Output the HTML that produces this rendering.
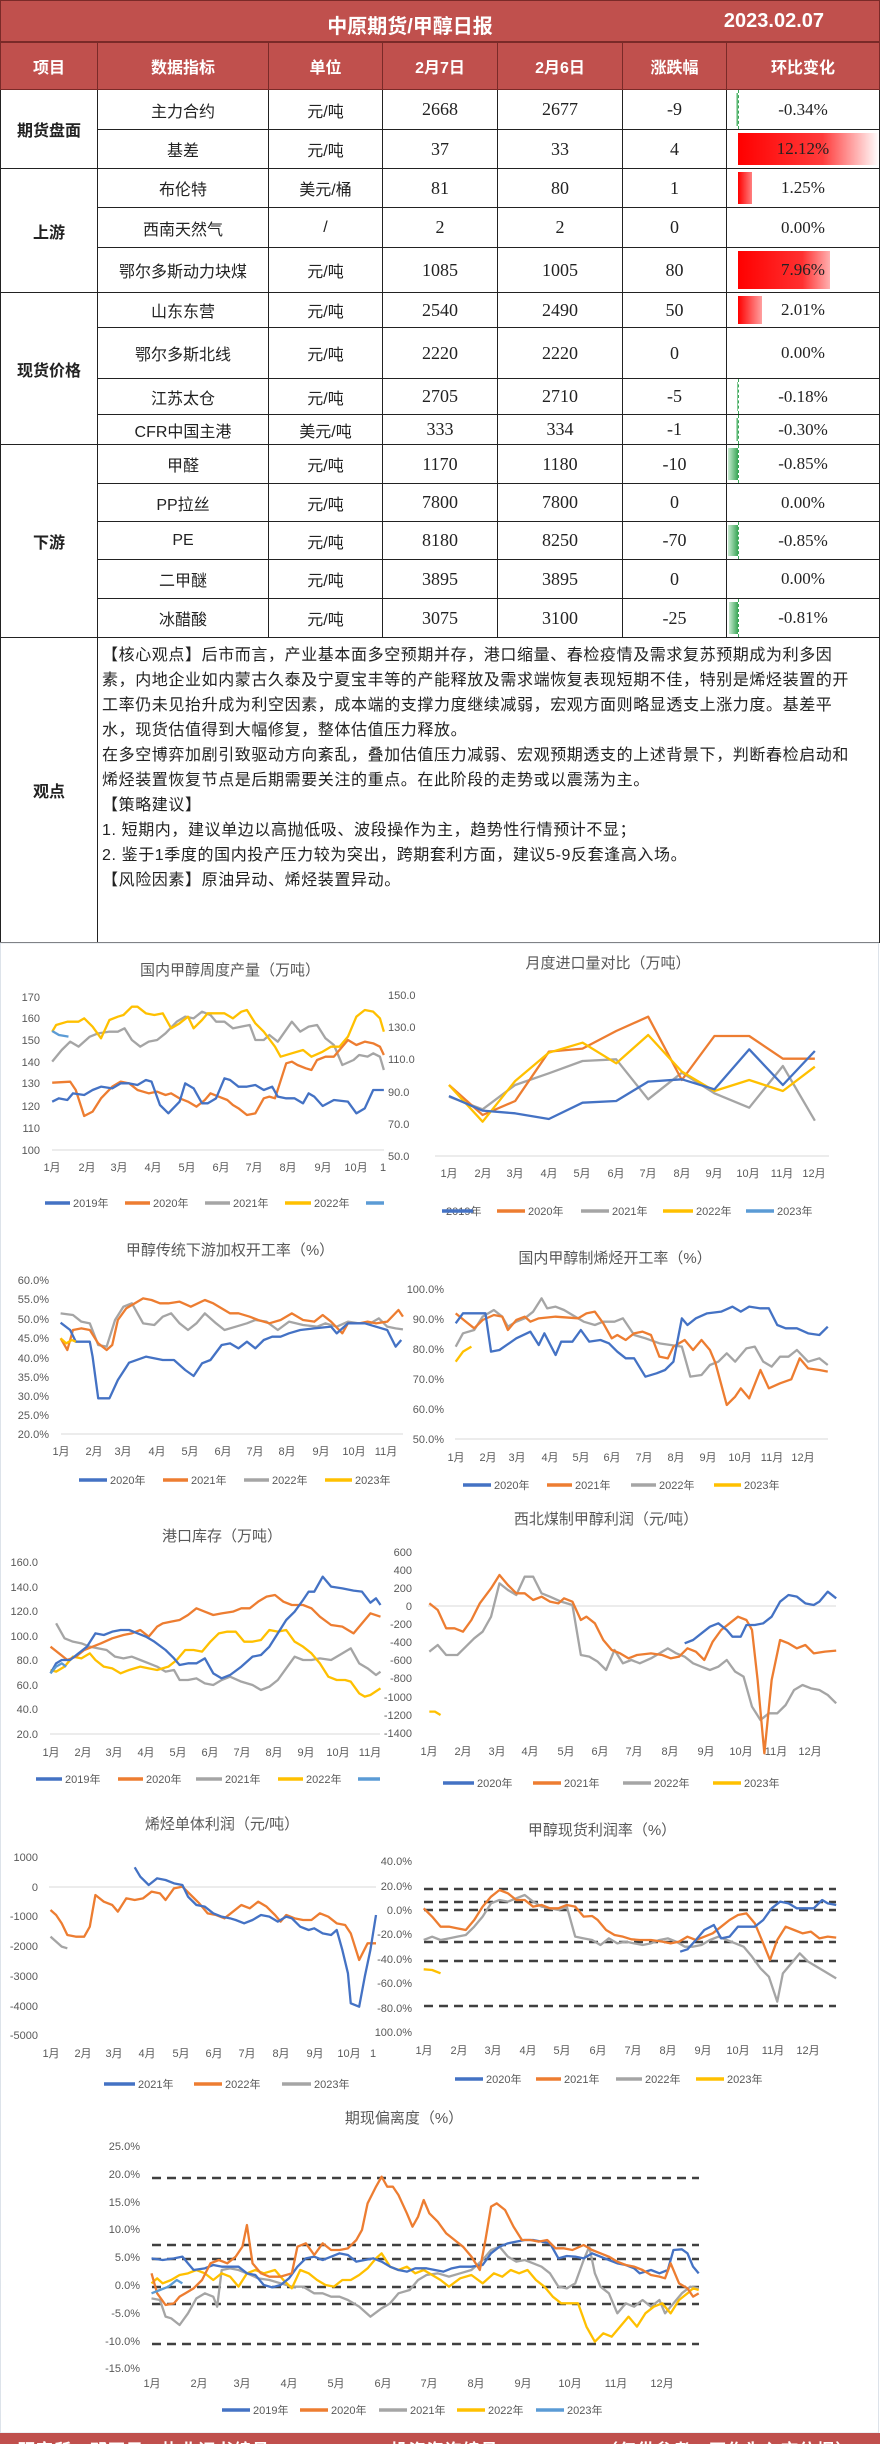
<!DOCTYPE html>
<html><head><meta charset="utf-8">
<style>
*{margin:0;padding:0;box-sizing:border-box}
body{width:880px;height:2444px;background:#fff;position:relative;overflow:hidden;font-family:"Liberation Sans","Noto Sans CJK SC",sans-serif}
table{position:absolute;left:0;top:0;width:879px;border-collapse:collapse;table-layout:fixed}
td{border:1.5px solid #222;text-align:center;vertical-align:middle;font-size:16px;color:#222;position:relative;white-space:nowrap}
.t td{background:#c0504d;color:#fff;font-weight:bold;border-color:#7a2a28}
.num{font-family:"Liberation Serif","Noto Serif CJK SC",serif;font-size:18px}
.sec{font-weight:bold;font-size:16px}
.pc{font-family:"Liberation Serif","Noto Serif CJK SC",serif;font-size:17px}
.bar{position:absolute;top:3px;bottom:3px;left:11px;background:linear-gradient(to right,#ff0000,#ff3b3b 60%,#fff)}
.gb{position:absolute;top:3px;bottom:3px;right:calc(100% - 11px);background:linear-gradient(to left,#3aa657,#c8ebd1)}
.ax{position:absolute;top:0;bottom:0;left:11px;border-left:1px dashed #3aa657}
.pc span{position:relative}
.obs{text-align:left;vertical-align:top;padding:5px 0 0 4px;font-size:16px;line-height:25px;letter-spacing:0.6px}
svg{position:absolute;left:0;top:0}
</style></head><body>
<table>
<colgroup><col style="width:97px"><col style="width:171px"><col style="width:114px"><col style="width:115px"><col style="width:125px"><col style="width:104px"><col style="width:153px"></colgroup>
<tr class="t" style="height:41px"><td colspan="7" style="font-size:20px;border-bottom:2px solid #7a2a28"><span style="position:absolute;left:0;right:0;top:9px;text-align:center;padding-right:60px">中原期货/甲醇日报</span><span style="position:absolute;right:55px;top:9px">2023.02.07</span></td></tr>
<tr class="t" style="height:48px"><td>项目</td><td>数据指标</td><td>单位</td><td>2月7日</td><td>2月6日</td><td>涨跌幅</td><td>环比变化</td></tr>
<tr style="height:40px"><td rowspan="2" class="sec">期货盘面</td><td>主力合约</td><td>元/吨</td><td class="num">2668</td><td class="num">2677</td><td class="num">-9</td><td class="pc"><div class="gb" style="width:2px"></div><div class="ax"></div><span>-0.34%</span></td></tr>
<tr style="height:39px"><td>基差</td><td>元/吨</td><td class="num">37</td><td class="num">33</td><td class="num">4</td><td class="pc"><div class="bar" style="width:141px"></div><span>12.12%</span></td></tr>
<tr style="height:39px"><td rowspan="3" class="sec">上游</td><td>布伦特</td><td>美元/桶</td><td class="num">81</td><td class="num">80</td><td class="num">1</td><td class="pc"><div class="bar" style="width:14px;background:linear-gradient(to right,#ff0000,#ff8080)"></div><span>1.25%</span></td></tr>
<tr style="height:40px"><td>西南天然气</td><td>/</td><td class="num">2</td><td class="num">2</td><td class="num">0</td><td class="pc"><span>0.00%</span></td></tr>
<tr style="height:45px"><td>鄂尔多斯动力块煤</td><td>元/吨</td><td class="num">1085</td><td class="num">1005</td><td class="num">80</td><td class="pc"><div class="bar" style="width:92px;background:linear-gradient(to right,#ff0000,#ff3030 70%,#ffb0b0)"></div><span>7.96%</span></td></tr>
<tr style="height:35px"><td rowspan="4" class="sec">现货价格</td><td>山东东营</td><td>元/吨</td><td class="num">2540</td><td class="num">2490</td><td class="num">50</td><td class="pc"><div class="bar" style="width:24px;background:linear-gradient(to right,#ff0000,#ffa0a0)"></div><span>2.01%</span></td></tr>
<tr style="height:51px"><td>鄂尔多斯北线</td><td>元/吨</td><td class="num">2220</td><td class="num">2220</td><td class="num">0</td><td class="pc"><span>0.00%</span></td></tr>
<tr style="height:36px"><td>江苏太仓</td><td>元/吨</td><td class="num">2705</td><td class="num">2710</td><td class="num">-5</td><td class="pc"><div class="gb" style="width:1px"></div><div class="ax"></div><span>-0.18%</span></td></tr>
<tr style="height:30px"><td>CFR中国主港</td><td>美元/吨</td><td class="num">333</td><td class="num">334</td><td class="num">-1</td><td class="pc"><div class="gb" style="width:2px"></div><div class="ax"></div><span>-0.30%</span></td></tr>
<tr style="height:39px"><td rowspan="5" class="sec">下游</td><td>甲醛</td><td>元/吨</td><td class="num">1170</td><td class="num">1180</td><td class="num">-10</td><td class="pc"><div class="gb" style="width:10px"></div><div class="ax"></div><span>-0.85%</span></td></tr>
<tr style="height:38px"><td>PP拉丝</td><td>元/吨</td><td class="num">7800</td><td class="num">7800</td><td class="num">0</td><td class="pc"><span>0.00%</span></td></tr>
<tr style="height:38px"><td>PE</td><td>元/吨</td><td class="num">8180</td><td class="num">8250</td><td class="num">-70</td><td class="pc"><div class="gb" style="width:10px"></div><div class="ax"></div><span>-0.85%</span></td></tr>
<tr style="height:39px"><td>二甲醚</td><td>元/吨</td><td class="num">3895</td><td class="num">3895</td><td class="num">0</td><td class="pc"><span>0.00%</span></td></tr>
<tr style="height:39px"><td>冰醋酸</td><td>元/吨</td><td class="num">3075</td><td class="num">3100</td><td class="num">-25</td><td class="pc"><div class="gb" style="width:9px"></div><div class="ax"></div><span>-0.81%</span></td></tr>
<tr style="height:305px"><td class="sec">观点</td><td colspan="6" class="obs">【核心观点】后市而言，产业基本面多空预期并存，港口缩量、春检疫情及需求复苏预期成为利多因<br>素，内地企业如内蒙古久泰及宁夏宝丰等的产能释放及需求端恢复表现短期不佳，特别是烯烃装置的开<br>工率仍未见抬升成为利空因素，成本端的支撑力度继续减弱，宏观方面则略显透支上涨力度。基差平<br>水，现货估值得到大幅修复，整体估值压力释放。<br>在多空博弈加剧引致驱动方向紊乱，叠加估值压力减弱、宏观预期透支的上述背景下，判断春检启动和<br>烯烃装置恢复节点是后期需要关注的重点。在此阶段的走势或以震荡为主。<br>【策略建议】<br>1. 短期内，建议单边以高抛低吸、波段操作为主，趋势性行情预计不显；<br>2. 鉴于1季度的国内投产压力较为突出，跨期套利方面，建议5-9反套逢高入场。<br>【风险因素】原油异动、烯烃装置异动。</td></tr>
</table>

<svg width="880" height="2444" viewBox="0 0 880 2444" xmlns="http://www.w3.org/2000/svg" style="top:0;left:0">
<rect x="0.5" y="943" width="878" height="1490" fill="none" stroke="#dde3ea" stroke-width="1"/>
<g font-family="Liberation Sans, Noto Sans CJK SC, sans-serif" fill="#595959">
<!-- titles -->
<g font-size="15" text-anchor="middle">
<text x="230" y="975">国内甲醇周度产量（万吨）</text>
<text x="608" y="968">月度进口量对比（万吨）</text>
<text x="230" y="1255">甲醇传统下游加权开工率（%）</text>
<text x="615" y="1263">国内甲醇制烯烃开工率（%）</text>
<text x="222" y="1541">港口库存（万吨）</text>
<text x="606" y="1524">西北煤制甲醇利润（元/吨）</text>
<text x="222" y="1829">烯烃单体利润（元/吨）</text>
<text x="602" y="1835">甲醇现货利润率（%）</text>
<text x="404" y="2123">期现偏离度（%）</text>
</g>
<g font-size="11">
<!-- chart1 axes -->
<g text-anchor="end"><text x="40" y="1001">170</text><text x="40" y="1022">160</text><text x="40" y="1044">150</text><text x="40" y="1066">140</text><text x="40" y="1087">130</text><text x="40" y="1110">120</text><text x="40" y="1132">110</text><text x="40" y="1154">100</text></g>
<g><text x="388" y="999">150.0</text><text x="388" y="1031">130.0</text><text x="388" y="1063">110.0</text><text x="388" y="1096">90.0</text><text x="388" y="1128">70.0</text><text x="388" y="1160">50.0</text></g>
<g text-anchor="middle"><text x="52" y="1171">1月</text><text x="87" y="1171">2月</text><text x="119" y="1171">3月</text><text x="153" y="1171">4月</text><text x="187" y="1171">5月</text><text x="221" y="1171">6月</text><text x="254" y="1171">7月</text><text x="288" y="1171">8月</text><text x="323" y="1171">9月</text><text x="356" y="1171">10月</text><text x="383" y="1171">1</text></g>
<!-- chart2 -->
<g text-anchor="middle"><text x="449" y="1177">1月</text><text x="483" y="1177">2月</text><text x="515" y="1177">3月</text><text x="549" y="1177">4月</text><text x="582" y="1177">5月</text><text x="616" y="1177">6月</text><text x="648" y="1177">7月</text><text x="682" y="1177">8月</text><text x="714" y="1177">9月</text><text x="748" y="1177">10月</text><text x="782" y="1177">11月</text><text x="814" y="1177">12月</text></g>
<!-- chart3 -->
<g text-anchor="end"><text x="49" y="1284">60.0%</text><text x="49" y="1303">55.0%</text><text x="49" y="1323">50.0%</text><text x="49" y="1342">45.0%</text><text x="49" y="1362">40.0%</text><text x="49" y="1381">35.0%</text><text x="49" y="1400">30.0%</text><text x="49" y="1419">25.0%</text><text x="49" y="1438">20.0%</text></g>
<g text-anchor="middle"><text x="61" y="1455">1月</text><text x="94" y="1455">2月</text><text x="123" y="1455">3月</text><text x="157" y="1455">4月</text><text x="190" y="1455">5月</text><text x="223" y="1455">6月</text><text x="255" y="1455">7月</text><text x="287" y="1455">8月</text><text x="321" y="1455">9月</text><text x="354" y="1455">10月</text><text x="386" y="1455">11月</text></g>
<!-- chart4 -->
<g text-anchor="end"><text x="444" y="1293">100.0%</text><text x="444" y="1323">90.0%</text><text x="444" y="1353">80.0%</text><text x="444" y="1383">70.0%</text><text x="444" y="1413">60.0%</text><text x="444" y="1443">50.0%</text></g>
<g text-anchor="middle"><text x="456" y="1461">1月</text><text x="488" y="1461">2月</text><text x="517" y="1461">3月</text><text x="550" y="1461">4月</text><text x="581" y="1461">5月</text><text x="612" y="1461">6月</text><text x="644" y="1461">7月</text><text x="676" y="1461">8月</text><text x="708" y="1461">9月</text><text x="740" y="1461">10月</text><text x="772" y="1461">11月</text><text x="803" y="1461">12月</text></g>
<!-- chart5 -->
<g text-anchor="end"><text x="38" y="1566">160.0</text><text x="38" y="1591">140.0</text><text x="38" y="1615">120.0</text><text x="38" y="1640">100.0</text><text x="38" y="1664">80.0</text><text x="38" y="1689">60.0</text><text x="38" y="1713">40.0</text><text x="38" y="1738">20.0</text></g>
<g text-anchor="middle"><text x="51" y="1756">1月</text><text x="83" y="1756">2月</text><text x="114" y="1756">3月</text><text x="146" y="1756">4月</text><text x="178" y="1756">5月</text><text x="210" y="1756">6月</text><text x="242" y="1756">7月</text><text x="274" y="1756">8月</text><text x="306" y="1756">9月</text><text x="338" y="1756">10月</text><text x="370" y="1756">11月</text></g>
<!-- chart6 -->
<g text-anchor="end"><text x="412" y="1556">600</text><text x="412" y="1574">400</text><text x="412" y="1592">200</text><text x="412" y="1610">0</text><text x="412" y="1628">-200</text><text x="412" y="1646">-400</text><text x="412" y="1664">-600</text><text x="412" y="1682">-800</text><text x="412" y="1701">-1000</text><text x="412" y="1719">-1200</text><text x="412" y="1737">-1400</text></g>
<g text-anchor="middle"><text x="429" y="1755">1月</text><text x="463" y="1755">2月</text><text x="497" y="1755">3月</text><text x="530" y="1755">4月</text><text x="566" y="1755">5月</text><text x="600" y="1755">6月</text><text x="634" y="1755">7月</text><text x="670" y="1755">8月</text><text x="706" y="1755">9月</text><text x="741" y="1755">10月</text><text x="776" y="1755">11月</text><text x="810" y="1755">12月</text></g>
<!-- chart7 -->
<g text-anchor="end"><text x="38" y="1861">1000</text><text x="38" y="1891">0</text><text x="38" y="1920">-1000</text><text x="38" y="1950">-2000</text><text x="38" y="1980">-3000</text><text x="38" y="2010">-4000</text><text x="38" y="2039">-5000</text></g>
<g text-anchor="middle"><text x="51" y="2057">1月</text><text x="83" y="2057">2月</text><text x="114" y="2057">3月</text><text x="147" y="2057">4月</text><text x="181" y="2057">5月</text><text x="214" y="2057">6月</text><text x="247" y="2057">7月</text><text x="281" y="2057">8月</text><text x="315" y="2057">9月</text><text x="349" y="2057">10月</text><text x="373" y="2057">1</text></g>
<!-- chart8 -->
<g text-anchor="end"><text x="412" y="1865">40.0%</text><text x="412" y="1890">20.0%</text><text x="412" y="1914">0.0%</text><text x="412" y="1938">-20.0%</text><text x="412" y="1963">-40.0%</text><text x="412" y="1987">-60.0%</text><text x="412" y="2012">-80.0%</text><text x="412" y="2036">100.0%</text></g>
<g text-anchor="middle"><text x="424" y="2054">1月</text><text x="459" y="2054">2月</text><text x="493" y="2054">3月</text><text x="528" y="2054">4月</text><text x="562" y="2054">5月</text><text x="598" y="2054">6月</text><text x="633" y="2054">7月</text><text x="668" y="2054">8月</text><text x="703" y="2054">9月</text><text x="738" y="2054">10月</text><text x="773" y="2054">11月</text><text x="808" y="2054">12月</text></g>
<!-- chart9 -->
<g text-anchor="end"><text x="140" y="2150">25.0%</text><text x="140" y="2178">20.0%</text><text x="140" y="2206">15.0%</text><text x="140" y="2233">10.0%</text><text x="140" y="2261">5.0%</text><text x="140" y="2289">0.0%</text><text x="140" y="2317">-5.0%</text><text x="140" y="2345">-10.0%</text><text x="140" y="2372">-15.0%</text></g>
<g text-anchor="middle"><text x="152" y="2387">1月</text><text x="199" y="2387">2月</text><text x="242" y="2387">3月</text><text x="289" y="2387">4月</text><text x="336" y="2387">5月</text><text x="383" y="2387">6月</text><text x="429" y="2387">7月</text><text x="476" y="2387">8月</text><text x="523" y="2387">9月</text><text x="570" y="2387">10月</text><text x="616" y="2387">11月</text><text x="662" y="2387">12月</text></g>
<!-- legends -->
<g>
<text x="73" y="1207">2019年</text><text x="153" y="1207">2020年</text><text x="233" y="1207">2021年</text><text x="314" y="1207">2022年</text>
<text x="446" y="1215">2019年</text><text x="528" y="1215">2020年</text><text x="612" y="1215">2021年</text><text x="696" y="1215">2022年</text><text x="777" y="1215">2023年</text>
<text x="110" y="1484">2020年</text><text x="191" y="1484">2021年</text><text x="272" y="1484">2022年</text><text x="355" y="1484">2023年</text>
<text x="494" y="1489">2020年</text><text x="575" y="1489">2021年</text><text x="659" y="1489">2022年</text><text x="744" y="1489">2023年</text>
<text x="65" y="1783">2019年</text><text x="146" y="1783">2020年</text><text x="225" y="1783">2021年</text><text x="306" y="1783">2022年</text>
<text x="477" y="1787">2020年</text><text x="564" y="1787">2021年</text><text x="654" y="1787">2022年</text><text x="744" y="1787">2023年</text>
<text x="138" y="2088">2021年</text><text x="225" y="2088">2022年</text><text x="314" y="2088">2023年</text>
<text x="486" y="2083">2020年</text><text x="564" y="2083">2021年</text><text x="645" y="2083">2022年</text><text x="727" y="2083">2023年</text>
<text x="253" y="2414">2019年</text><text x="331" y="2414">2020年</text><text x="410" y="2414">2021年</text><text x="488" y="2414">2022年</text><text x="567" y="2414">2023年</text>
</g>
</g>
</g>
<g stroke-width="3.5" fill="none">
<path stroke="#4472c4" d="M45 1203h25M442 1211h31M444 1484h0M79 1480h28M463 1485h28M36 1779h26M443 1783h31M104 2084h31M455 2079h28M222 2410h28"/>
<path stroke="#ed7d31" d="M125 1203h25M497 1211h28M163 1480h25M547 1485h25M118 1779h25M533 1783h28M194 2084h28M536 2079h25M300 2410h28"/>
<path stroke="#a5a5a5" d="M205 1203h25M581 1211h28M244 1480h25M631 1485h25M196 1779h26M623 1783h28M282 2084h29M616 2079h26M379 2410h28"/>
<path stroke="#ffc000" d="M285 1203h26M663 1211h30M325 1480h27M714 1485h27M278 1779h25M713 1783h28M696 2079h28M457 2410h28"/>
<path stroke="#5b9bd5" d="M366 1203h18M746 1211h28M358 1779h22M536 2410h28"/>
</g>
<!-- axis lines -->
<g stroke="#d9d9d9" stroke-width="1">
<path d="M52 1150H384M435 1156H829M61 1434H403M455 1439H828M50 1734H380M428 1606H836M49 1887H376"/>
</g>
<!-- dashed lines -->
<g stroke="#404040" stroke-width="2.5" stroke-dasharray="9 6">
<path d="M424 1889H836M424 1902H836M424 1910H836M424 1942H836M424 1961H836M424 2006H836"/>
<path d="M152 2178H699M152 2245H699M152 2259H699M152 2287H699M152 2304H699M152 2344H699"/>
</g>
<!-- data series in zoom coordinates -->
<g fill="none" stroke-width="2.3" stroke-linejoin="round">
<g transform="translate(0,900) scale(0.5612,0.33333)">
<polyline vector-effect="non-scaling-stroke" stroke="#a5a5a5" points="93,485 110,450 125,425 140,440 160,410 175,400 195,395 210,395 222,385 235,420 250,440 265,425 280,420 295,400 315,365 330,350 345,355 360,335 375,345 385,365 400,365 415,385 430,380 445,375 455,420 470,420 480,405 495,425 520,365 535,395 550,380 565,375 580,415 595,435 610,495 630,480 640,465 655,470 665,460 677,470 684,510"/>
<polyline vector-effect="non-scaling-stroke" stroke="#ffc000" points="93,395 100,375 120,365 140,365 150,355 165,380 180,415 195,360 210,350 220,345 235,320 245,320 260,340 275,345 290,340 305,385 320,370 335,350 345,385 360,360 370,340 385,340 400,340 415,355 430,335 440,330 455,370 470,395 490,440 500,470 520,460 540,450 555,470 575,455 590,440 605,440 620,410 635,350 650,330 665,335 677,355 684,395"/>
<polyline vector-effect="non-scaling-stroke" stroke="#ed7d31" points="93,548 125,545 135,570 150,648 165,635 180,595 200,560 215,545 230,550 245,570 265,580 280,575 295,585 305,580 320,595 335,605 350,620 365,600 375,580 390,590 405,600 415,615 425,625 440,645 455,640 470,595 480,590 490,595 510,490 520,485 530,495 545,505 555,510 565,480 580,470 595,470 620,420 635,435 650,425 665,430 677,440 684,465"/>
<polyline vector-effect="non-scaling-stroke" stroke="#4472c4" points="93,605 105,595 120,600 130,580 150,585 165,570 180,560 200,565 215,550 230,550 245,555 260,540 270,545 285,615 300,640 320,605 330,550 345,565 360,610 370,610 385,595 400,535 410,540 425,560 440,560 455,555 470,570 485,560 495,590 510,595 525,595 540,610 550,580 560,590 575,618 595,600 620,605 635,640 650,625 665,570 684,570"/>
<polyline vector-effect="non-scaling-stroke" stroke="#5b9bd5" points="93,393 105,405 122,410"/>
<polyline vector-effect="non-scaling-stroke" stroke="#a5a5a5" points="800,590 860,628 918,555 978,520 1038,483 1098,478 1155,598 1215,518 1273,580 1335,623 1395,498 1452,662"/>
<polyline vector-effect="non-scaling-stroke" stroke="#ed7d31" points="800,555 860,645 918,603 978,455 1038,446 1098,393 1155,350 1215,540 1273,408 1335,408 1395,476 1452,476"/>
<polyline vector-effect="non-scaling-stroke" stroke="#ffc000" points="800,555 860,665 918,543 978,458 1038,428 1098,490 1155,405 1215,515 1273,573 1335,540 1395,573 1452,500"/>
<polyline vector-effect="non-scaling-stroke" stroke="#4472c4" points="800,588 860,632 918,640 978,657 1038,608 1098,603 1155,545 1215,538 1273,568 1335,448 1395,555 1452,453"/>
</g>
<g transform="translate(0,1280) scale(0.5612,0.33333)">
<polyline vector-effect="non-scaling-stroke" stroke="#a5a5a5" points="108,100 130,105 145,125 160,130 175,195 190,200 205,120 220,80 235,70 255,130 275,135 290,110 305,100 320,130 335,150 350,130 365,100 385,130 400,150 420,140 440,130 455,120 475,125 495,150 515,125 540,135 565,140 580,130 600,140 620,125 640,130 660,130 675,115 690,140 705,145 718,148"/>
<polyline vector-effect="non-scaling-stroke" stroke="#ed7d31" points="108,175 120,210 130,150 145,145 160,150 175,190 190,210 200,195 210,120 225,85 240,70 255,55 270,60 285,70 300,70 320,65 340,80 365,60 380,70 395,85 410,100 425,100 445,110 460,120 480,130 500,120 520,100 540,120 560,125 575,105 590,125 610,160 620,130 640,130 655,125 670,130 690,125 710,90 718,110"/>
<polyline vector-effect="non-scaling-stroke" stroke="#4472c4" points="108,128 125,150 135,185 160,185 165,230 175,355 195,355 210,300 230,248 260,230 290,240 310,240 330,270 345,288 360,250 375,240 395,195 410,190 425,205 440,185 455,205 470,180 485,170 500,170 515,160 535,150 560,145 590,140 600,160 620,130 650,130 670,140 690,150 705,200 715,180"/>
<polyline vector-effect="non-scaling-stroke" stroke="#ffc000" points="108,175 118,190 128,180 135,185"/>
<polyline vector-effect="non-scaling-stroke" stroke="#a5a5a5" points="812,200 825,160 845,150 860,110 880,90 895,110 905,140 920,125 935,115 950,95 965,55 975,85 990,80 1005,90 1020,105 1040,125 1060,135 1075,125 1095,125 1110,115 1130,165 1150,175 1175,190 1195,195 1215,200 1230,290 1250,285 1265,255 1280,245 1295,220 1310,245 1330,205 1345,200 1360,245 1375,260 1390,230 1405,230 1420,210 1440,245 1460,235 1475,255"/>
<polyline vector-effect="non-scaling-stroke" stroke="#ed7d31" points="812,100 830,125 845,145 860,120 880,105 895,110 905,150 920,120 935,110 945,125 960,115 990,110 1030,115 1045,100 1060,95 1075,130 1090,175 1100,165 1115,180 1130,160 1145,155 1160,165 1175,230 1190,235 1200,200 1220,180 1235,210 1250,180 1265,210 1275,250 1295,375 1310,350 1320,325 1335,355 1355,270 1370,325 1390,310 1410,298 1425,235 1440,265 1460,270 1475,275"/>
<polyline vector-effect="non-scaling-stroke" stroke="#4472c4" points="812,130 825,100 865,100 875,215 890,210 920,175 945,155 960,195 970,160 990,225 1000,185 1020,185 1035,150 1050,185 1070,180 1085,190 1100,215 1115,235 1130,235 1150,290 1170,280 1185,270 1200,245 1215,115 1225,135 1240,115 1260,100 1285,95 1305,80 1320,95 1335,80 1355,85 1370,85 1385,135 1400,145 1420,145 1440,160 1460,165 1475,140"/>
<polyline vector-effect="non-scaling-stroke" stroke="#ffc000" points="812,245 825,215 840,200"/>
<!-- chart5 -->
<polyline vector-effect="non-scaling-stroke" stroke="#a5a5a5" points="100,1030 115,1075 130,1085 145,1090 160,1100 175,1105 190,1110 205,1130 220,1135 235,1130 250,1140 265,1150 280,1160 295,1175 310,1170 320,1200 335,1200 350,1195 365,1210 380,1215 395,1200 410,1190 430,1205 450,1215 465,1230 480,1220 495,1200 510,1165 525,1130 540,1140 555,1140 570,1135 590,1140 610,1120 625,1105 640,1150 655,1165 670,1185 678,1175"/>
<polyline vector-effect="non-scaling-stroke" stroke="#ffc000" points="90,1170 100,1175 115,1160 130,1130 145,1135 160,1120 170,1140 185,1160 200,1165 215,1180 230,1170 250,1160 265,1165 280,1170 300,1160 315,1140 330,1110 345,1110 360,1115 375,1085 390,1060 405,1055 420,1055 435,1085 450,1085 465,1080 480,1050 495,1055 510,1050 525,1085 540,1100 555,1120 570,1150 585,1190 600,1200 615,1200 625,1205 640,1240 650,1250 660,1245 678,1225"/>
<polyline vector-effect="non-scaling-stroke" stroke="#ed7d31" points="90,1100 105,1120 120,1140 135,1130 150,1110 165,1100 180,1090 200,1075 220,1065 235,1060 250,1050 265,1070 280,1040 290,1030 305,1025 320,1020 335,1005 350,985 365,995 380,1005 395,1000 415,995 430,985 445,985 460,965 475,950 490,945 505,965 520,975 540,975 555,985 570,1010 590,1035 610,1040 630,1060 645,1030 660,1000 678,1010"/>
<polyline vector-effect="non-scaling-stroke" stroke="#4472c4" points="90,1180 100,1150 110,1140 125,1140 140,1120 155,1100 170,1060 185,1065 200,1055 215,1050 230,1050 245,1060 260,1070 275,1085 295,1110 310,1135 320,1155 335,1150 350,1150 365,1135 380,1180 395,1195 410,1185 430,1160 450,1130 465,1125 480,1100 495,1060 510,1020 525,995 540,960 550,935 560,935 575,890 590,920 610,925 630,932 645,935 660,968 670,955 678,975"/>
<polyline vector-effect="non-scaling-stroke" stroke="#5b9bd5" points="90,1180 100,1160 110,1150 118,1160"/>
<!-- chart6 -->
<polyline vector-effect="non-scaling-stroke" stroke="#a5a5a5" points="765,1115 780,1095 795,1125 815,1125 830,1100 845,1075 860,1055 875,1010 890,910 905,930 920,945 935,890 950,890 965,940 980,950 1000,965 1020,975 1035,1125 1050,1130 1065,1145 1080,1170 1095,1110 1110,1150 1125,1140 1140,1150 1160,1135 1175,1120 1190,1105 1205,1120 1220,1130 1235,1150 1250,1160 1265,1170 1280,1160 1295,1140 1310,1175 1325,1190 1340,1280 1355,1320 1370,1300 1385,1300 1400,1275 1415,1230 1430,1215 1445,1225 1460,1230 1475,1245 1490,1270"/>
<polyline vector-effect="non-scaling-stroke" stroke="#ed7d31" points="765,970 780,990 795,1045 810,1045 825,1055 840,1020 855,970 875,925 890,885 905,915 920,940 935,940 950,960 965,950 980,965 995,970 1005,955 1020,965 1035,1020 1045,1010 1060,1030 1075,1080 1090,1110 1105,1120 1120,1135 1135,1125 1160,1120 1180,1125 1195,1135 1210,1130 1225,1105 1240,1115 1255,1140 1270,1085 1285,1050 1300,1030 1315,1010 1330,1020 1340,1050 1350,1200 1362,1420 1375,1200 1390,1080 1405,1090 1420,1105 1435,1095 1450,1120 1470,1115 1490,1112"/>
<polyline vector-effect="non-scaling-stroke" stroke="#4472c4" points="1220,1090 1235,1080 1250,1060 1265,1040 1280,1030 1295,1050 1305,1070 1320,1070 1330,1035 1345,1035 1360,1030 1375,1010 1390,965 1405,945 1420,950 1435,970 1450,975 1460,965 1475,935 1490,955"/>
<polyline vector-effect="non-scaling-stroke" stroke="#ffc000" points="765,1295 775,1295 785,1305"/>
</g>
<g transform="translate(0,1660) scale(0.5612,0.33333)">
<polyline vector-effect="non-scaling-stroke" stroke="#ed7d31" points="90,750 100,765 110,790 120,825 135,830 150,830 160,800 170,705 185,725 200,735 210,755 225,715 240,720 255,715 270,695 285,700 295,720 310,685 325,680 340,705 355,730 370,760 385,765 400,775 415,755 430,735 445,745 460,725 475,740 490,765 500,785 510,765 525,775 540,780 555,780 570,760 585,770 600,790 615,795 625,820 640,900 655,850 670,850"/>
<polyline vector-effect="non-scaling-stroke" stroke="#4472c4" points="240,622 250,650 265,675 280,655 295,660 310,670 325,675 335,710 350,735 365,740 380,760 395,770 410,775 420,780 435,790 450,780 465,765 480,770 495,785 510,770 520,775 535,800 550,810 560,805 575,820 590,825 600,810 610,870 620,940 625,1030 640,1040 650,950 660,870 670,765"/>
<polyline vector-effect="non-scaling-stroke" stroke="#a5a5a5" points="90,830 100,845 110,860 120,865"/>
<polyline vector-effect="non-scaling-stroke" stroke="#a5a5a5" points="755,840 770,830 785,840 800,835 815,830 830,825 845,800 860,770 875,730 890,720 905,725 920,715 935,705 950,725 965,740 980,745 995,750 1010,740 1025,830 1040,835 1055,840 1070,855 1085,835 1100,850 1115,845 1130,850 1145,855 1160,850 1175,840 1190,835 1205,845 1220,860 1235,860 1250,855 1265,840 1280,830 1295,840 1310,850 1325,860 1340,890 1355,925 1370,950 1385,1025 1395,940 1410,910 1425,880 1440,905 1455,920 1470,935 1490,955"/>
<polyline vector-effect="non-scaling-stroke" stroke="#ed7d31" points="755,745 770,770 785,800 800,800 815,805 830,810 845,780 860,740 875,710 890,690 905,700 920,720 935,720 950,740 965,735 980,745 995,745 1010,735 1025,740 1040,770 1055,768 1065,780 1080,810 1095,825 1110,830 1125,838 1140,840 1160,840 1180,845 1195,850 1210,845 1225,830 1240,840 1255,830 1270,820 1285,800 1300,780 1315,765 1330,760 1345,790 1360,850 1372,900 1385,840 1400,800 1415,810 1430,820 1445,815 1460,835 1475,830 1490,833"/>
<polyline vector-effect="non-scaling-stroke" stroke="#4472c4" points="1212,875 1225,868 1240,840 1255,810 1272,795 1285,835 1300,830 1315,800 1330,800 1345,800 1360,780 1375,745 1390,725 1405,730 1420,745 1435,745 1450,745 1465,720 1475,730 1490,735"/>
<polyline vector-effect="non-scaling-stroke" stroke="#ffc000" points="755,928 770,930 785,940"/>
</g>
<g transform="translate(0,2040) scale(0.5612,0.33333)">
<polyline vector-effect="non-scaling-stroke" stroke="#a5a5a5" points="270,775 285,780 295,830 305,835 320,855 335,820 350,775 365,760 380,770 387,800 395,690 410,685 425,690 440,700 460,715 480,720 500,730 520,740 540,740 560,760 575,760 590,770 605,770 620,780 640,800 660,830 680,805 695,790 710,760 730,750 745,720 760,705 780,700 800,710 820,700 840,690 860,660 875,630 890,620 905,650 920,665 935,660 950,670 965,680 980,700 995,740 1010,745 1025,730 1040,660 1050,620 1060,700 1070,740 1085,760 1100,820 1115,790 1130,800 1145,780 1160,800 1175,780 1185,820 1200,790 1215,760 1230,740 1245,745"/>
<polyline vector-effect="non-scaling-stroke" stroke="#ffc000" points="270,730 280,715 290,730 305,720 320,705 335,700 350,690 365,700 380,720 395,700 410,710 425,740 440,700 455,690 470,700 490,690 505,720 520,745 535,690 550,700 565,720 580,735 595,740 610,720 625,720 640,705 655,685 670,655 680,640 695,680 710,690 725,680 740,700 755,690 770,705 785,720 800,740 820,715 840,705 860,730 880,700 895,710 910,690 925,700 940,690 955,720 970,740 985,770 1000,790 1015,790 1030,790 1045,860 1060,905 1075,880 1090,890 1105,860 1120,830 1135,860 1150,820 1165,800 1180,790 1195,820 1210,780 1225,760 1235,745 1245,750"/>
<polyline vector-effect="non-scaling-stroke" stroke="#4472c4" points="270,655 290,660 310,655 325,650 335,670 345,690 365,685 380,675 395,680 410,680 425,680 440,700 455,705 470,735 485,742 500,735 515,715 530,680 545,655 560,650 575,660 590,650 605,640 620,645 635,665 650,660 665,655 680,665 695,680 710,690 725,695 740,685 760,685 775,690 790,695 805,685 820,680 840,680 860,675 875,640 890,620 905,610 920,605 935,600 950,600 965,605 980,610 995,655 1010,648 1025,650 1040,655 1055,640 1070,650 1085,660 1100,670 1115,675 1130,685 1140,700 1160,690 1175,700 1190,690 1200,630 1215,628 1225,640 1235,680 1245,700"/>
<polyline vector-effect="non-scaling-stroke" stroke="#ed7d31" points="270,700 280,760 295,795 310,790 320,770 330,760 345,745 360,720 375,670 390,660 405,670 420,650 432,620 440,555 450,670 465,700 480,710 500,710 520,700 530,620 545,610 560,645 575,610 590,630 605,630 620,625 635,600 645,570 655,490 670,440 680,410 690,440 700,440 710,465 725,520 735,560 745,530 755,480 765,520 780,545 795,580 810,600 825,620 840,650 855,690 865,600 875,500 885,490 900,510 915,560 930,600 945,600 960,605 975,600 990,625 1005,625 1020,630 1040,615 1055,630 1070,640 1085,650 1100,665 1115,675 1130,680 1145,690 1160,705 1175,710 1185,715 1195,670 1210,730 1225,745 1235,770 1245,760"/>
<polyline vector-effect="non-scaling-stroke" stroke="#5b9bd5" points="270,760 285,750 300,740 315,720 325,730"/>
</g>
</g>
</svg>
<div style="position:absolute;left:0;top:2433px;width:880px;height:11px;background:#c0504d;overflow:hidden">
<div style="position:absolute;left:18px;top:3px;color:#fff;font-weight:bold;font-size:17px;white-space:nowrap;letter-spacing:1px">研究所：邓亚男　执业证书编号：F3080122　投资咨询编号：Z0016240（仅供参考，不作为入市依据）</div>
</div>
</body></html>
